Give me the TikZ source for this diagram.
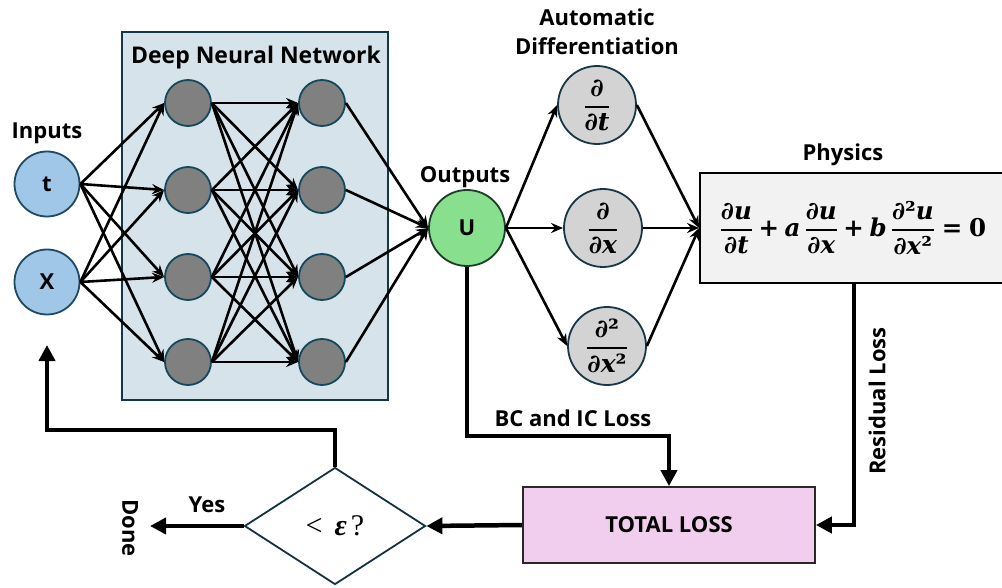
\documentclass[tikz,border=0pt]{standalone}
\usepackage[no-math]{fontspec}
\usepackage{amsmath}
\setmainfont{Open Sans}
\newfontfamily\eqf{DejaVu Serif}
\newfontfamily\dia{Liberation Serif}
\usetikzlibrary{arrows.meta,shapes.geometric,calc}
\definecolor{infill}{RGB}{160,198,232}
\definecolor{inborder}{RGB}{30,75,100}
\definecolor{hidfill}{RGB}{128,128,128}
\definecolor{hidborder}{RGB}{22,72,92}
\definecolor{dnnfill}{RGB}{215,227,234}
\definecolor{dnnborder}{RGB}{20,55,70}
\definecolor{ufill}{RGB}{136,224,142}
\definecolor{uborder}{RGB}{28,60,40}
\definecolor{adfill}{RGB}{211,211,211}
\definecolor{adborder}{RGB}{25,55,70}
\definecolor{totfill}{RGB}{241,206,238}
\definecolor{totborder}{RGB}{40,40,40}
\definecolor{physfill}{RGB}{242,242,242}
\definecolor{diaborder}{RGB}{20,50,65}
% bold serif pieces for the formulas
\newcommand{\eb}[1]{\mbox{\eqf\bfseries\itshape #1}}
\newcommand{\er}[1]{\mbox{\eqf\bfseries #1}}
\newcommand{\pd}{\mbox{\eqf\bfseries ∂}}
\newcommand{\fr}[2]{{\displaystyle{#1\above 1.8pt #2}}}
\tikzset{
  lbl/.style={font=\fontsize{22}{29}\selectfont\bfseries, inner sep=0pt, align=center},
  inp/.style={circle, draw=inborder, fill=infill, line width=1.8pt, minimum size=65pt, inner sep=0pt, font=\fontsize{22}{26}\selectfont\bfseries},
  hid/.style={circle, draw=hidborder, fill=hidfill, line width=1.8pt, minimum size=46pt, inner sep=0pt},
  adn/.style={circle, draw=adborder, fill=adfill, line width=1.8pt, minimum size=78pt, inner sep=0pt, font=\fontsize{25}{29}\selectfont},
  net/.style={line width=2.6pt, -{Stealth[length=12pt,width=10pt]}},
  flow/.style={line width=4.5pt, -{Triangle[length=16pt,width=16pt]}},
}
\begin{document}
\begin{tikzpicture}[x=1pt,y=-1pt]
\clip (0,0) rectangle (1002,588);
\fill[white] (0,0) rectangle (1002,588);

% DNN box
\node[draw=dnnborder, fill=dnnfill, line width=1.8pt, minimum width=266pt, minimum height=368pt, inner sep=0pt] (dnn) at (255,216) {};
\node[lbl, font=\fontsize{23}{29}\selectfont\bfseries] (dnnlbl) at (256,58) {Deep Neural Network};

% inputs
\node[inp] (t) at (47,184) {t};
\node[inp] (X) at (47,282) {X};
\node[lbl] (inlbl) at (47,133) {Inputs};

% hidden layers
\foreach \i/\yy in {1/103,2/190,3/277,4/362}{
  \node[hid] (a\i) at (188,\yy) {};
  \node[hid] (b\i) at (322,\yy) {};
}

% output
\node[circle, draw=uborder, fill=ufill, line width=1.8pt, minimum size=76pt, inner sep=0pt, font=\fontsize{22}{26}\selectfont\bfseries] (U) at (467,228) {U};
\node[lbl] (outlbl) at (465,177) {Outputs};

% AD nodes
\node[adn] (dt) at (597,105) {$\fr{\pd}{\pd\eb{t}}$};
\node[adn] (dx) at (603,228) {$\fr{\pd}{\pd\eb{x}}$};
\node[adn] (dxx) at (607,346) {$\fr{\pd\er{²}}{\pd\eb{x}\er{²}}$};
\node[lbl] (adlbl) at (597,32) {Automatic\\Differentiation};

% physics
\node[draw=black, fill=physfill, line width=1.8pt, minimum width=306pt, minimum height=110pt, inner sep=0pt, font=\fontsize{24.5}{28}\selectfont] (phys) at (853,228)
  {$\fr{\pd\eb{u}}{\pd\eb{t}}\mathbin{\er{+}}\eb{a}\,\fr{\pd\eb{u}}{\pd\eb{x}}\mathbin{\er{+}}\eb{b}\,\fr{\pd\er{²}\eb{u}}{\pd\eb{x}\er{²}}\mathrel{\er{=}}\er{0}$};
\node[lbl] (physlbl) at (843,155) {Physics};

% total loss
\node[draw=totborder, fill=totfill, line width=1.8pt, minimum width=292pt, minimum height=76pt, inner sep=0pt, font=\fontsize{22}{26}\selectfont\bfseries] (tot) at (669,525) {TOTAL LOSS};

% diamond
\node[diamond, draw=diaborder, fill=white, line width=1.8pt, aspect=1.55, minimum width=181pt, minimum height=117pt, inner sep=0pt, font=\fontsize{30}{34}\selectfont] (dia) at (335,526) {\dia <\hspace{12pt}\textbf{\textit{ε}}\hspace{4pt}?};

% network connections
\foreach \i in {1,2,3,4}{
  \draw[net] (t.east) -- (a\i.west);
  \draw[net] (X.east) -- (a\i.west);
  \foreach \j in {1,2,3,4}{
    \draw[net] (a\i.east) -- (b\j.west);
  }
  \draw[net] (b\i.east) -- (U.west);
}
\draw[net] (U.east) -- (dt.west);
\draw[net] (U.east) -- (dx.west);
\draw[net] (U.east) -- (dxx.west);
\draw[net] (dt.east) -- (phys.west);
\draw[net] (dx.east) -- (phys.west);
\draw[net] (dxx.east) -- (phys.west);

% loss flows
\coordinate (bcturn) at (467,436);
\draw[flow] (U.south) -- (bcturn) -| (tot.north);
\node[lbl] (bclbl) at (573,418) {BC and IC Loss};

\coordinate (resx) at (854,283);
\draw[flow] (resx) |- (tot.east);
\node[lbl, rotate=90] (reslbl) at (877,401) {Residual Loss};

\draw[flow] (tot.west) -- (dia.east);

\coordinate (done) at (150,526);
\draw[flow] (dia.west) -- (done);
\node[lbl] (yeslbl) at (207,505) {Yes};
\node[lbl, rotate=-90] (donelbl) at (130,528) {Done};

\coordinate (loopturn) at (337,430);
\coordinate (back) at (47,345);
\draw[flow] (dia.north) -- (dia.north |- loopturn) -| (back);
\end{tikzpicture}
\end{document}
